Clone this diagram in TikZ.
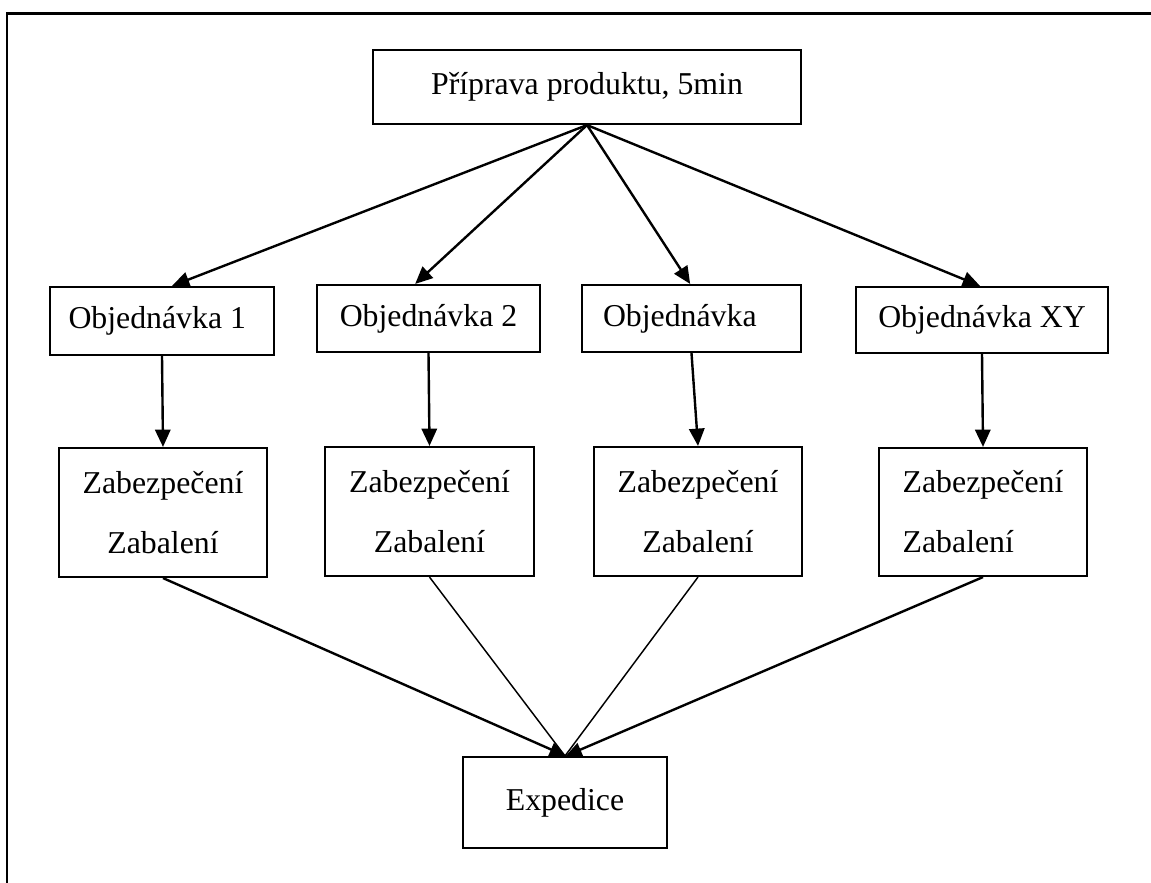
\documentclass[tikz,border=0pt]{standalone}
\usepackage{fontspec}
\setmainfont{Liberation Serif}
\usetikzlibrary{arrows.meta}
\tikzset{
  box/.style={draw, line width=1.6pt, inner sep=0pt, font=\fontsize{23.85pt}{28pt}\selectfont},
  twoline/.style={box, font=\fontsize{23.85pt}{45pt}\selectfont},
  arr/.style={line width=1.8pt, -{Triangle[length=13pt,width=11.5pt]}},
  thickline/.style={line width=1.8pt, -{Triangle[length=12pt,width=10.5pt]}},
  thinline/.style={line width=1.1pt},
  frame/.style={line width=1.6pt, line cap=rect}
}
\begin{document}
\begin{tikzpicture}[x=0.75pt,y=-0.75pt]
\useasboundingbox (0,0) rectangle (1151,882);
% outer frame (top and left only)
\coordinate (fl) at (7,882);
\coordinate (fc) at (7,13.5);
\coordinate (fr) at (1151,13.5);
\draw[frame] (fl) -- (fc) -- (fr);
% top box
\node[box, minimum width=321pt, minimum height=55.5pt] (top) at (587,87) {Příprava produktu, 5min};
% order boxes
\node[box, minimum width=168pt, minimum height=51pt, inner xsep=13.875pt] (o1) at (162,321) {\makebox[140.25pt][l]{Objednávka 1}};
\node[box, minimum width=167.25pt, minimum height=50.25pt] (o2) at (428.5,318.5) {Objednávka 2};
\node[box, minimum width=164.25pt, minimum height=50.25pt, inner xsep=15.75pt] (o3) at (691.5,318.5) {\makebox[132.75pt][l]{Objednávka}};
\node[box, minimum width=189pt, minimum height=49.5pt] (o4) at (982,320) {Objednávka XY};
% packing boxes
\node[twoline, align=center, minimum width=156pt, minimum height=96.75pt] (z1) at (163,512.5) {Zabezpečení\\Zabalení};
\node[twoline, align=center, minimum width=156.75pt, minimum height=96.75pt] (z2) at (429.5,511.5) {Zabezpečení\\Zabalení};
\node[twoline, align=center, minimum width=156pt, minimum height=96.75pt] (z3) at (698,511.5) {Zabezpečení\\Zabalení};
\node[twoline, align=left, minimum width=156pt, minimum height=96pt] (z4) at (983,512) {Zabezpečení\\Zabalení};
% expedition
\node[box, minimum width=153pt, minimum height=68.25pt] (ex) at (565,802.5) {Expedice};
% connectors
\draw[arr] (top.south) -- ([xshift=7.5pt]o1.north);
\draw[arr] (top.south) -- ([xshift=-10pt]o2.north);
\draw[arr] (top.south) -- ([xshift=-1pt]o3.north);
\draw[arr] (top.south) -- ([xshift=-1.5pt]o4.north);
\draw[arr] (o1.south) -- (z1.north);
\draw[arr] (o2.south) -- (z2.north);
\draw[arr] (o3.south) -- (z3.north);
\draw[arr] (o4.south) -- (z4.north);
\draw[thickline] (z1.south) -- ([xshift=0.5pt]ex.north);
\draw[thinline] (z2.south) -- (ex.north);
\draw[thinline] (z3.south) -- (ex.north);
\draw[thickline] (z4.south) -- ([xshift=0.5pt]ex.north);
\end{tikzpicture}
\end{document}
